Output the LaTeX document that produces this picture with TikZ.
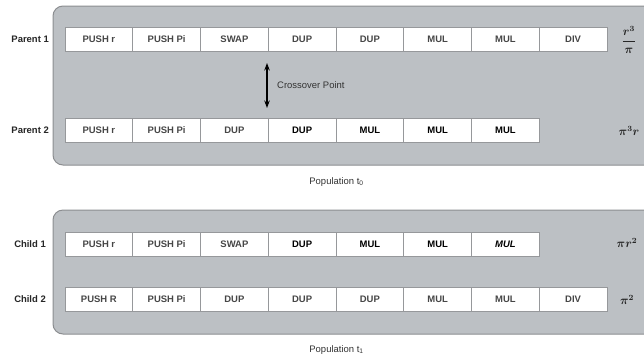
\documentclass[tikz,border=0pt]{standalone}
\usepackage{fontspec}
\setmainfont{Liberation Sans}
\usetikzlibrary{arrows.meta}
\definecolor{panelfill}{RGB}{188,192,196}
\definecolor{panelline}{RGB}{140,142,145}
\definecolor{cellline}{RGB}{150,152,155}
\definecolor{txt}{RGB}{70,70,70}
\tikzset{
  panel/.style={draw=panelline,fill=panelfill,line width=1bp,rounded corners=10bp},
  cell/.style={draw=cellline,fill=white,line width=0.8bp,minimum width=67.75bp,minimum height=24bp,inner sep=0pt,text=txt,font=\fontsize{9.5}{11}\selectfont\bfseries},
  hv/.style={font=\fontsize{9.5}{11}\selectfont\bfseries,text=black},
  rowlabel/.style={text=black!85,font=\fontsize{9.5}{11}\selectfont\bfseries,anchor=east,inner sep=0pt},
  note/.style={text=black!80,font=\fontsize{9.5}{11}\selectfont,inner sep=0pt},
  expr/.style={text=black!85,font=\fontsize{11.5}{13}\selectfont\boldmath,inner sep=0pt},
  xarrow/.style={line width=1.1bp,{Stealth[length=7.5bp,width=5.5bp]}-{Stealth[length=7.5bp,width=5.5bp]}}
}
\begin{document}
\begin{tikzpicture}[x=1bp,y=-1bp]
\useasboundingbox (0,0) rectangle (644,358);
\fill[white] (0,0) rectangle (644,358);
% panels
\draw[panel] (53,6) rectangle (660,165);
\draw[panel] (53,210) rectangle (660,334);
% Parent 1
\foreach \t [count=\i] in {PUSH r,PUSH Pi,SWAP,DUP,DUP,MUL,MUL,DIV}
  \node[cell] (pa\i) at ({65+67.75*(\i-0.5)},39.5) {\t};
% Parent 2
\foreach \t [count=\i] in {PUSH r,PUSH Pi,DUP}
  \node[cell] (pb\i) at ({65+67.75*(\i-0.5)},130.5) {\t};
\foreach \t [count=\j] in {DUP,MUL,MUL,MUL}
  \node[cell,hv] (pb\the\numexpr\j+3\relax) at ({65+67.75*(\j+2.5)},130.5) {\t};
% Child 1
\foreach \t [count=\i] in {PUSH r,PUSH Pi,SWAP}
  \node[cell] (ca\i) at ({65+67.75*(\i-0.5)},244) {\t};
\foreach \t [count=\j] in {DUP,MUL,MUL}
  \node[cell,hv] (ca\the\numexpr\j+3\relax) at ({65+67.75*(\j+2.5)},244) {\t};
\node[cell,hv,font=\fontsize{9.5}{11}\selectfont\bfseries\itshape] (ca7) at ({65+67.75*6.5},244) {MUL};
% Child 2
\foreach \t [count=\i] in {PUSH R,PUSH Pi,DUP,DUP,DUP,MUL,MUL,DIV}
  \node[cell] (cb\i) at ({65+67.75*(\i-0.5)},299.5) {\t};
% row labels
\node[rowlabel] (lpa) at (49,39.5) {Parent 1};
\node[rowlabel] (lpb) at (49,130.5) {Parent 2};
\node[rowlabel] (lca) at (46,244) {Child 1};
\node[rowlabel] (lcb) at (46,299.5) {Child 2};
% expressions
\node[expr] (ea) at (629,40) {$\displaystyle\frac{r^3}{\pi}$};
\node[expr] (eb) at (629,131) {$\pi^3 r$};
\node[expr] (ec) at (627,243) {$\pi r^2$};
\node[expr] (ed) at (627,300) {$\pi^2$};
% crossover
\coordinate (xa) at (267,63);
\coordinate (xb) at (267,108);
\draw[xarrow] (xa) -- (xb);
\node[note,anchor=west] (xl) at (277,85.5) {Crossover Point};
% population labels
\node[note] (pt0) at (336.5,182) {Population t\textsubscript{0}};
\node[note] (pt1) at (336.5,350) {Population t\textsubscript{1}};
\end{tikzpicture}
\end{document}
